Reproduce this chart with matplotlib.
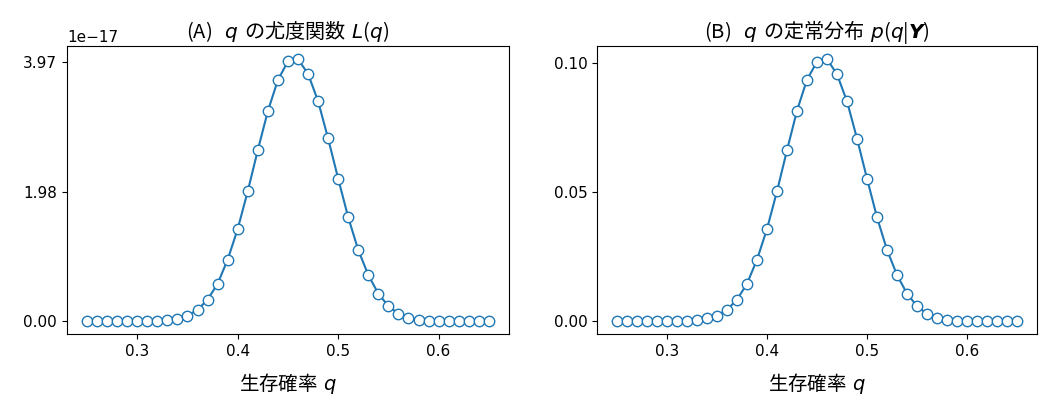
import numpy as np
import matplotlib
matplotlib.use("Agg")
import matplotlib.pyplot as plt
from matplotlib.ticker import ScalarFormatter

plt.rcParams['font.family'] = ['DejaVu Sans', 'Noto Sans CJK JP']
# mathtext strings get no font fallback: the plain part uses the text's own
# (first) family, so titles/labels with CJK are given the CJK family directly
plt.rcParams['mathtext.fontset'] = 'custom'
plt.rcParams['mathtext.rm'] = 'Noto Sans CJK JP'
plt.rcParams['mathtext.it'] = 'DejaVu Sans:italic'
plt.rcParams['mathtext.bf'] = 'DejaVu Sans:bold'
plt.rcParams['mathtext.bfit'] = 'DejaVu Sans:italic:bold'
plt.rcParams['xtick.labelsize'] = 11
plt.rcParams['ytick.labelsize'] = 11
JP = 'Noto Sans CJK JP'

# survival probability grid
q = np.round(np.arange(0.25, 0.655, 0.01), 2)

# likelihood L(q), in units of 1e-17
lik = np.array([
    0.000, 0.000, 0.000, 0.000, 0.000, 0.000, 0.000, 0.005, 0.015, 0.036,
    0.082, 0.174, 0.328, 0.574, 0.943, 1.414, 1.993, 2.623, 3.222, 3.699,
    3.986, 4.020, 3.795, 3.375, 2.802, 2.187, 1.593, 1.091, 0.707, 0.420,
    0.231, 0.113, 0.051, 0.020, 0.005, 0.000, 0.000, 0.000, 0.000, 0.000,
    0.000,
]) * 1e-17

# stationary distribution p(q|Y)
post = np.array([
    0.0000, 0.0000, 0.0000, 0.0000, 0.0000, 0.0000, 0.0000, 0.0001, 0.0005, 0.0012,
    0.0021, 0.0044, 0.0083, 0.0145, 0.0238, 0.0357, 0.0503, 0.0662, 0.0815, 0.0935,
    0.1004, 0.1014, 0.0955, 0.0850, 0.0706, 0.0551, 0.0401, 0.0275, 0.0178, 0.0106,
    0.0058, 0.0028, 0.0013, 0.0005, 0.0001, 0.0000, 0.0000, 0.0000, 0.0000, 0.0000,
    0.0000,
])

lik_ticks = [0.0, 1.984e-17, 3.97e-17]
post_ticks = [0.0, 0.05, 0.10]


class Fmt2(ScalarFormatter):
    def _set_format(self):
        self.format = '%1.2f'


fig = plt.figure(figsize=(10.58, 4.09), dpi=100)
ax1 = fig.add_axes([0.0633, 0.183, 0.4177, 0.7045])
ax2 = fig.add_axes([0.5643, 0.183, 0.4159, 0.7045])

style = dict(marker='o', ms=7.5, mfc='white', mec='C0', color='C0', lw=1.5)

ax1.plot(q, lik, **style)
ax1.set_yticks(lik_ticks)
ax1.yaxis.set_major_formatter(Fmt2())
ax1.yaxis.get_offset_text().set_fontsize(11)
ax1.set_title(r'(A)$\ \ q\ $の尤度関数$\ L(q)$', fontsize=14.5, family=JP)

ax2.plot(q, post, **style)
ax2.set_yticks(post_ticks)
ax2.yaxis.set_major_formatter(Fmt2())
ax2.set_title(r'(B)$\ \ q\ $の定常分布$\ p(q|\boldsymbol{Y})$', fontsize=14.5, family=JP)

for ax in (ax1, ax2):
    ax.set_xticks([0.3, 0.4, 0.5, 0.6])
    ax.set_xlabel(r'生存確率$\ q$', fontsize=14, family=JP, labelpad=9)

fig.savefig('out.png', dpi=100)
